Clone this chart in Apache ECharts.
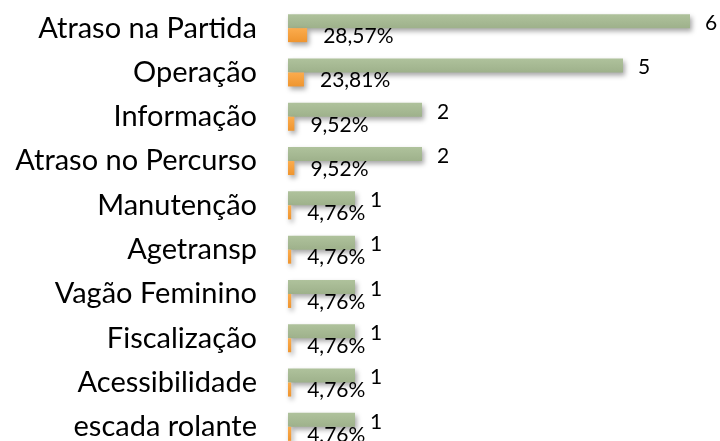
<!DOCTYPE html>
<html><head><meta charset="utf-8">
<script src="https://cdn.jsdelivr.net/npm/echarts@6/dist/echarts.min.js"></script>
<style>html,body{margin:0;padding:0;background:#fff;overflow:hidden}#c{width:720px;height:452px}</style>
</head><body><div id="c"></div>
<script>
const categories = ["Atraso na Partida","Operação","Informação","Atraso no Percurso","Manutenção","Agetransp","Vagão Feminino","Fiscalização","Acessibilidade","escada rolante"];
const counts = [6,5,2,2,1,1,1,1,1,1];
const shares = [0.2857,0.2381,0.0952,0.0952,0.0476,0.0476,0.0476,0.0476,0.0476,0.0476];

const chart = echarts.init(document.getElementById('c'), null, {renderer:'canvas'});
const font = 'Lato, "Open Sans", sans-serif';
chart.setOption({
  animation:false,
  grid:{left:288, top:6, height:443, width:402, containLabel:false},
  xAxis:{type:'value', min:0, max:6, show:false},
  yAxis:{type:'category', data:categories, inverse:true,
    axisLine:{show:false}, axisTick:{show:false},
    axisLabel:{color:'#000', fontSize:29, fontFamily:font, margin:31}},
  series:[
    {type:'bar', data:counts, barWidth:14, barGap:'0%',
     itemStyle:{color:new echarts.graphic.LinearGradient(0,0,0,1,[{offset:0,color:'#afc29c'},{offset:1,color:'#9eb18b'}]),
       shadowColor:'rgba(0,0,0,0.35)', shadowBlur:5, shadowOffsetY:3, shadowOffsetX:2},
     label:{show:true, position:'right', distance:15, offset:[0,2], color:'#000', fontSize:21, fontFamily:font}},
    {type:'bar', data:shares, barWidth:14,
     itemStyle:{color:new echarts.graphic.LinearGradient(0,0,0,1,[{offset:0,color:'#fbac4e'},{offset:1,color:'#ef952f'}]),
       shadowColor:'rgba(0,0,0,0.35)', shadowBlur:5, shadowOffsetY:3, shadowOffsetX:2},
     label:{show:true, position:'right', distance:16, offset:[0,1], color:'#000', fontSize:21, fontFamily:font,
       formatter:p => (p.value*100).toFixed(2).replace('.', ',') + '%'}}
  ]
});
</script></body></html>
